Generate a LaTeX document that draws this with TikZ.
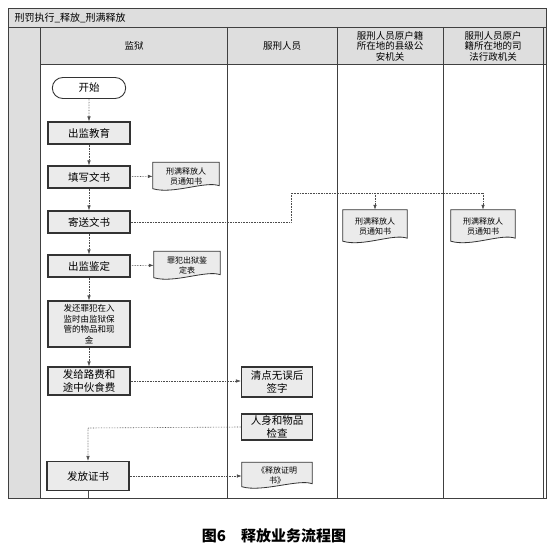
\documentclass[tikz,border=0pt]{standalone}
\usepackage{fontspec}
\setmainfont{Noto Sans CJK SC}
\usetikzlibrary{arrows.meta,shapes.misc}
\tikzset{
  frameline/.style={draw=black!75,line width=0.9pt},
  stepbox/.style={draw=black!80,line width=1.1pt,fill=black!8,minimum width=82pt,minimum height=22pt,inner sep=1pt,align=center,font=\fontsize{10.5}{12.5}\selectfont},
  startbox/.style={draw=black!80,line width=0.9pt,rounded rectangle,minimum width=80pt,minimum height=21pt,font=\fontsize{10.5}{12}\selectfont},
  docnode/.style={minimum width=66pt,minimum height=27pt,inner sep=1pt,align=center,font=\fontsize{8}{9.5}\selectfont,text depth=0pt},
  conn/.style={draw=black!70,line width=0.6pt,densely dotted},
  arr/.style={conn,-{Latex[length=5pt,width=3.5pt]}},
  hdr/.style={align=center,font=\fontsize{9.5}{10.5}\selectfont}
}
\newcommand{\docshape}[1]{%
  \draw[draw=black!80,line width=0.8pt,fill=black!8]
    (#1.north west) -- (#1.north east) -- ([yshift=4pt]#1.south east)
    .. controls ([xshift=-14pt,yshift=9pt]#1.south east) and ([xshift=20pt,yshift=-5pt]#1.south west) .. ([yshift=1pt]#1.south west) -- cycle;}
\begin{document}
\begin{tikzpicture}[x=1pt,y=-1pt]
\useasboundingbox (0,0) rectangle (554,556);
% backgrounds
\fill[black!13] (8,8) rectangle (546,27);
\fill[black!13] (8,27) rectangle (40,498);
\fill[black!13] (40,27) rectangle (546,64);
% frame
\draw[frameline] (8,8) rectangle (546,498);
\draw[frameline] (8,27) -- (546,27);
\draw[frameline] (40,64) -- (546,64);
\draw[frameline] (40,27) -- (40,498);
\draw[frameline] (227,27) -- (227,498);
\draw[frameline] (337,27) -- (337,498);
\draw[frameline] (443,27) -- (443,498);
\draw[frameline] (543,27) -- (543,498);
% title and headers
\node[anchor=west,font=\fontsize{10}{12}\selectfont] (title) at (11,17.5) {刑罚执行\_释放\_刑满释放};
\node[hdr] (h1) at (134,46) {监狱};
\node[hdr] (h2) at (282,46) {服刑人员};
\node[hdr] (h3) at (390,46) {服刑人员原户籍\\所在地的县级公\\安机关};
\node[hdr] (h4) at (493,46) {服刑人员原户\\籍所在地的司\\法行政机关};
% process nodes
\node[startbox] (start) at (89,88) {开始};
\node[stepbox] (s1) at (89,133) {出监教育};
\node[stepbox] (s2) at (89,177) {填写文书};
\node[stepbox] (s3) at (89,222) {寄送文书};
\node[stepbox] (s4) at (89,266) {出监鉴定};
\node[stepbox,minimum height=46pt,font=\fontsize{8.5}{10.5}\selectfont] (s5) at (89,324) {发还罪犯在入\\监时由监狱保\\管的物品和现\\金};
\node[stepbox,minimum height=28pt] (s6) at (89,381) {发给路费和\\途中伙食费};
\node[stepbox,minimum height=29pt] (s7) at (88,476) {发放证书};
\node[stepbox,minimum width=71pt,minimum height=30pt] (p1) at (277,382) {清点无误后\\签字};
\node[stepbox,minimum width=71pt,minimum height=26pt] (p2) at (277,427) {人身和物品\\检查};
% documents
\node[docnode] (d1) at (186,176) {刑满释放人\\员通知书};
\docshape{d1}
\node[docnode] (d1) at (186,176) {刑满释放人\\员通知书};
\node[docnode] (d2) at (187,265) {罪犯出狱鉴\\定表};
\docshape{d2}
\node[docnode] (d2) at (187,265) {罪犯出狱鉴\\定表};
\node[docnode,minimum width=64pt,minimum height=32pt] (d3) at (375,226) {刑满释放人\\员通知书};
\docshape{d3}
\node[docnode,minimum width=64pt,minimum height=32pt] (d3) at (375,226) {刑满释放人\\员通知书};
\node[docnode,minimum width=64pt,minimum height=32pt] (d4) at (483,226) {刑满释放人\\员通知书};
\docshape{d4}
\node[docnode,minimum width=64pt,minimum height=32pt] (d4) at (483,226) {刑满释放人\\员通知书};
\node[docnode,minimum width=70pt,minimum height=25pt] (d5) at (277,475) {《释放证明\\书》};
\docshape{d5}
\node[docnode,minimum width=70pt,minimum height=25pt] (d5) at (277,475) {《释放证明\\书》};
% coordinates
\coordinate (j1) at (291,222);
\coordinate (j2) at (291,193);
\coordinate (j3) at (375,193);
\coordinate (j4) at (483,193);
\coordinate (k1) at (88,428);
\coordinate (bot) at (88,498);
% connectors
\draw[arr] (start) -- (s1);
\draw[arr] (s1) -- (s2);
\draw[arr] (s2) -- (s3);
\draw[arr] (s3) -- (s4);
\draw[arr] (s4) -- (s5);
\draw[arr] (s5) -- (s6);
\draw[arr] (s2) -- (d1);
\draw[arr] (s4) -- (d2);
\draw[conn] (s3.east) -- (j1) -- (j2) -- (j4);
\draw[arr] (j3) -- (d3.north);
\draw[arr] (j4) -- (d4.north);
\draw[arr] (s6.east) -- (s6.east -| p1.west);
\draw[arr] (p2.west) -- (k1) -- (s7.north);
\draw[arr] (s7.east) -- (s7.east -| d5.west);
\draw[conn,solid,draw=black!70] (s7.south) -- (bot);
% caption
\node[font=\fontsize{15}{17}\selectfont\bfseries] (cap) at (274,536) {图6\quad 释放业务流程图};
\end{tikzpicture}
\end{document}
